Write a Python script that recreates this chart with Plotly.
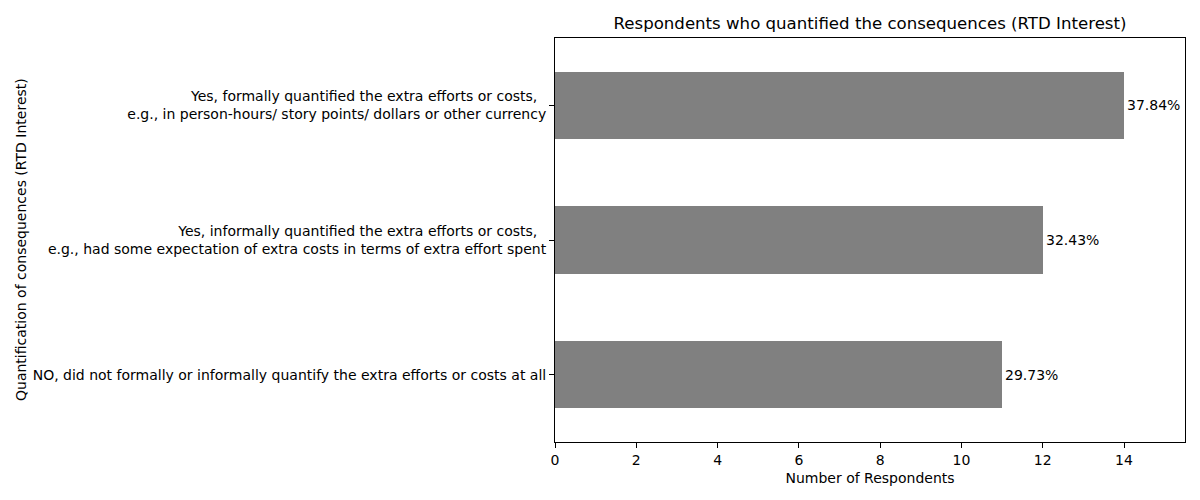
import plotly.graph_objects as go

# answer categories (bottom to top) and counts
categories = [
    "NO, did not formally or informally quantify the extra efforts or costs at all",
    "Yes, informally quantified the extra efforts or costs,  <br>e.g., had some expectation of extra costs in terms of extra effort spent",
    "Yes, formally quantified the extra efforts or costs,  <br>e.g., in person-hours/ story points/ dollars or other currency",
]
counts = [11, 12, 14]
pct_labels = ["29.73%", "32.43%", "37.84%"]
x_ticks = [0, 2, 4, 6, 8, 10, 12, 14]

font = "DejaVu Sans"

fig = go.Figure()
fig.add_trace(go.Bar(
    x=counts,
    y=categories,
    orientation="h",
    width=0.5,
    marker=dict(color="#808080", line=dict(width=0)),
    hoverinfo="x+y",
))

# percentage labels just right of each bar
for c, cat, lab in zip(counts, categories, pct_labels):
    fig.add_annotation(x=c, y=cat, text=lab, showarrow=False,
                       xanchor="left", xshift=1, font=dict(size=14, color="black"))

# y title as annotation so it sits at the far left
fig.add_annotation(x=-(555 - 21) / 630, y=0.5, xref="paper", yref="paper",
                   xanchor="center", yanchor="middle",
                   text="Quantification of consequences (RTD Interest)",
                   textangle=-90, showarrow=False,
                   font=dict(size=14, color="black"))

fig.update_layout(
    width=1200, height=500,
    margin=dict(l=555, r=15, t=38, b=58),
    plot_bgcolor="white", paper_bgcolor="white",
    font=dict(family=font, size=14, color="black"),
    showlegend=False,
    title=dict(text="Respondents who quantified the consequences (RTD Interest)",
               x=(555 + 315) / 1200, xanchor="center", y=1 - 23 / 500, yanchor="middle",
               font=dict(size=16.6, color="black")),
    bargap=0,
)
fig.update_xaxes(
    range=[0, 15.5], tickvals=x_ticks, ticks="outside", ticklen=5, tickcolor="black",
    showline=True, linecolor="black", linewidth=1, mirror=True, showgrid=False,
    zeroline=False,
    title=dict(text="Number of Respondents", font=dict(size=14), standoff=6),
)
fig.update_yaxes(
    range=[-0.5, 2.5], ticks="outside", ticklen=5, tickcolor="black",
    showline=True, linecolor="black", linewidth=1, mirror=True, showgrid=False,
)

fig.write_html("out.html", config={"displayModeBar": False},
               post_script="document.body.style.margin='0';")
